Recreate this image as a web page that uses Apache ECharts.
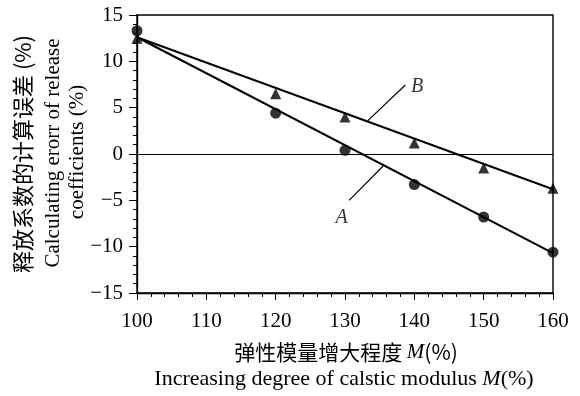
<!DOCTYPE html>
<html>
<head>
<meta charset="utf-8">
<script src="https://cdn.jsdelivr.net/npm/echarts@6/dist/echarts.min.js"></script>
<style>
  html, body { margin: 0; padding: 0; background: #fff; }
  #main { width: 580px; height: 396px; }
</style>
</head>
<body>
<div id="main"></div>
<script>
// 弹性模量增大程度 M(%)
const modulus = [100, 120, 130, 140, 150, 160];
// 释放系数的计算误差 (%)
const errorA = [13.3, 4.4, 0.4, -3.3, -6.8, -10.6];
const errorB = [12.5, 6.5, 4.0, 1.2, -1.5, -3.7];
// fitted lines
const fitA = [[100, 12.6], [160, -10.7]];
const fitB = [[100, 12.6], [160, -3.8]];
// leader lines and curve names
const leaderA = [[130.6, -5.0], [135.5, -1.3]];
const leaderB = [[138.7, 7.45], [133.3, 3.6]];
const curveLabels = [
  { name: 'A', pos: [129.5, -6.9] },
  { name: 'B', pos: [140.4, 7.3] }
];

const serif = '"Liberation Serif", "Times New Roman", serif';
const cjk = '"Noto Sans CJK SC", sans-serif';

const chart = echarts.init(document.getElementById('main'));

const pts = (ys) => modulus.map((x, i) => [x, ys[i]]);
const thin = { color: '#000', width: 1.2 };

chart.setOption({
  animation: false,
  grid: {
    left: 137, right: 27, top: 15, bottom: 103,
    show: true, borderColor: '#000', borderWidth: 1.4
  },
  xAxis: {
    type: 'value',
    min: 100, max: 160, interval: 10,
    axisLine: { onZero: false, lineStyle: { color: '#000', width: 1.4 } },
    axisTick: { length: 7, lineStyle: { color: '#000' } },
    minorTick: { show: true, splitNumber: 5, length: 4, lineStyle: { color: '#000' } },
    splitLine: { show: false },
    axisLabel: { color: '#000', fontFamily: serif, fontSize: 21, margin: 18 }
  },
  yAxis: {
    type: 'value',
    min: -15, max: 15, interval: 5,
    axisLine: { onZero: false, lineStyle: { color: '#000', width: 1.4 } },
    axisTick: { length: 8, lineStyle: { color: '#000' } },
    minorTick: { show: true, splitNumber: 5, length: 4, lineStyle: { color: '#000' } },
    splitLine: { show: false },
    axisLabel: {
      color: '#000', fontFamily: serif, fontSize: 21, margin: 14,
      formatter: (v) => (v < 0 ? '\u2212' + Math.abs(v) : String(v))
    }
  },
  series: [
    {
      type: 'line', data: fitA, symbol: 'none', lineStyle: { color: '#000', width: 2 },
      markLine: {
        silent: true, symbol: 'none', label: { show: false },
        lineStyle: { color: '#000', width: 1, type: 'solid' },
        data: [{ yAxis: 0 }]
      }
    },
    { type: 'line', data: fitB, symbol: 'none', lineStyle: { color: '#000', width: 2 } },
    { type: 'line', data: leaderA, symbol: 'none', lineStyle: thin },
    { type: 'line', data: leaderB, symbol: 'none', lineStyle: thin },
    {
      type: 'scatter', data: pts(errorA), symbol: 'circle', symbolSize: 11,
      itemStyle: { color: '#000' }
    },
    {
      type: 'scatter', data: pts(errorB), symbol: 'triangle', symbolSize: 11,
      itemStyle: { color: '#000' }
    },
    {
      type: 'scatter', symbolSize: 0,
      data: curveLabels.map((d) => ({ value: d.pos, name: d.name })),
      label: {
        show: true, position: 'inside', formatter: '{b}',
        color: '#000', fontFamily: serif, fontStyle: 'italic', fontSize: 20
      }
    }
  ],
  graphic: [
    {
      type: 'text', x: 23, y: 154, rotation: Math.PI / 2,
      style: {
        text: '释放系数的计算误差 (%)', font: '22px ' + cjk, fill: '#000',
        align: 'center', verticalAlign: 'middle'
      }
    },
    {
      type: 'text', x: 53, y: 153, rotation: Math.PI / 2,
      style: {
        text: 'Calculating erorr of release', font: '21px ' + serif, fill: '#000',
        align: 'center', verticalAlign: 'middle'
      }
    },
    {
      type: 'text', x: 77, y: 152, rotation: Math.PI / 2,
      style: {
        text: 'coefficients (%)', font: '21px ' + serif, fill: '#000',
        align: 'center', verticalAlign: 'middle'
      }
    },
    {
      type: 'text', x: 346, y: 352,
      style: {
        text: '弹性模量增大程度 {i|M}(%)', fill: '#000', font: '21px ' + cjk,
        align: 'center', verticalAlign: 'middle',
        rich: { i: { fontFamily: serif, fontStyle: 'italic', fontSize: 21 } }
      }
    },
    {
      type: 'text', x: 344, y: 379,
      style: {
        text: 'Increasing degree of calstic modulus {i|M}(%)', fill: '#000',
        font: '22px ' + serif, align: 'center', verticalAlign: 'middle',
        rich: { i: { fontFamily: serif, fontStyle: 'italic', fontSize: 22 } }
      }
    }
  ]
});
</script>
</body>
</html>
